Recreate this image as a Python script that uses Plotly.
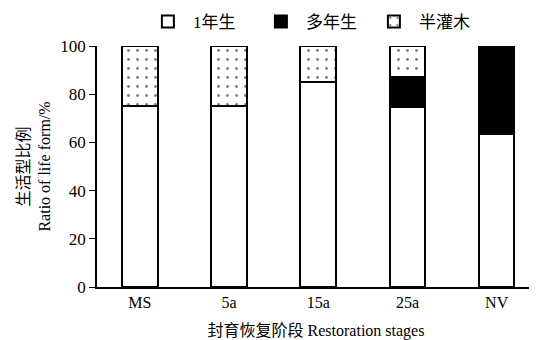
import plotly.graph_objects as go

categories = ["MS", "5a", "15a", "25a", "NV"]
annual = [75, 75, 85, 74.5, 63.5]
perennial = [0, 0, 0, 12.5, 36.5]
shrub = [25, 25, 15, 13, 0]
series_names = ["1年生", "多年生", "半灌木"]
y_ticks = [0, 20, 40, 60, 80, 100]

serif = "'Liberation Serif', 'Noto Sans CJK SC', serif"

fig = go.Figure()
fig.add_bar(x=categories, y=annual, name=series_names[0],
            marker=dict(color="white", line=dict(color="black", width=2)))
fig.add_bar(x=categories, y=perennial, name=series_names[1],
            marker=dict(color="black", line=dict(color="black", width=2)))
fig.add_bar(x=categories, y=shrub, name=series_names[2],
            marker=dict(color="white", line=dict(color="black", width=2),
                        pattern=dict(shape=".", fgcolor="black", bgcolor="white",
                                     size=9, solidity=0.08)))

# page body has an 8px default margin; size the figure to fit the 537x340 window
fig.update_layout(
    barmode="stack",
    bargap=0.6,
    width=529, height=332,
    margin=dict(l=89, r=2, t=38, b=53, autoexpand=False),
    paper_bgcolor="white", plot_bgcolor="white",
    font=dict(family=serif, size=16, color="black"),
    showlegend=True,
    legend=dict(orientation="h", x=0.255, xref="container", y=0.958, yref="container",
                yanchor="middle", xanchor="left",
                font=dict(family=serif, size=17), itemwidth=40,
                entrywidth=58, entrywidthmode="pixels",
                traceorder="normal"),
)
fig.update_xaxes(range=[-0.48, 4.43], showline=True, linecolor="black", linewidth=1.5,
                 ticks="", showgrid=False, zeroline=False, automargin=False,
                 title=dict(text="封育恢复阶段 Restoration stages", font=dict(family=serif, size=16), standoff=21),
                 tickfont=dict(family=serif, size=16))
fig.update_yaxes(range=[0, 100], tickvals=y_ticks, showline=True, linecolor="black", linewidth=1.5,
                 ticks="outside", ticklen=6, tickcolor="black", showgrid=False, zeroline=False,
                 automargin=False,
                 tickfont=dict(family=serif, size=17),
                 title=dict(text="生活型比例<br>Ratio of life form/%", font=dict(family=serif, size=16), standoff=6))

fig.write_html("out.html")
